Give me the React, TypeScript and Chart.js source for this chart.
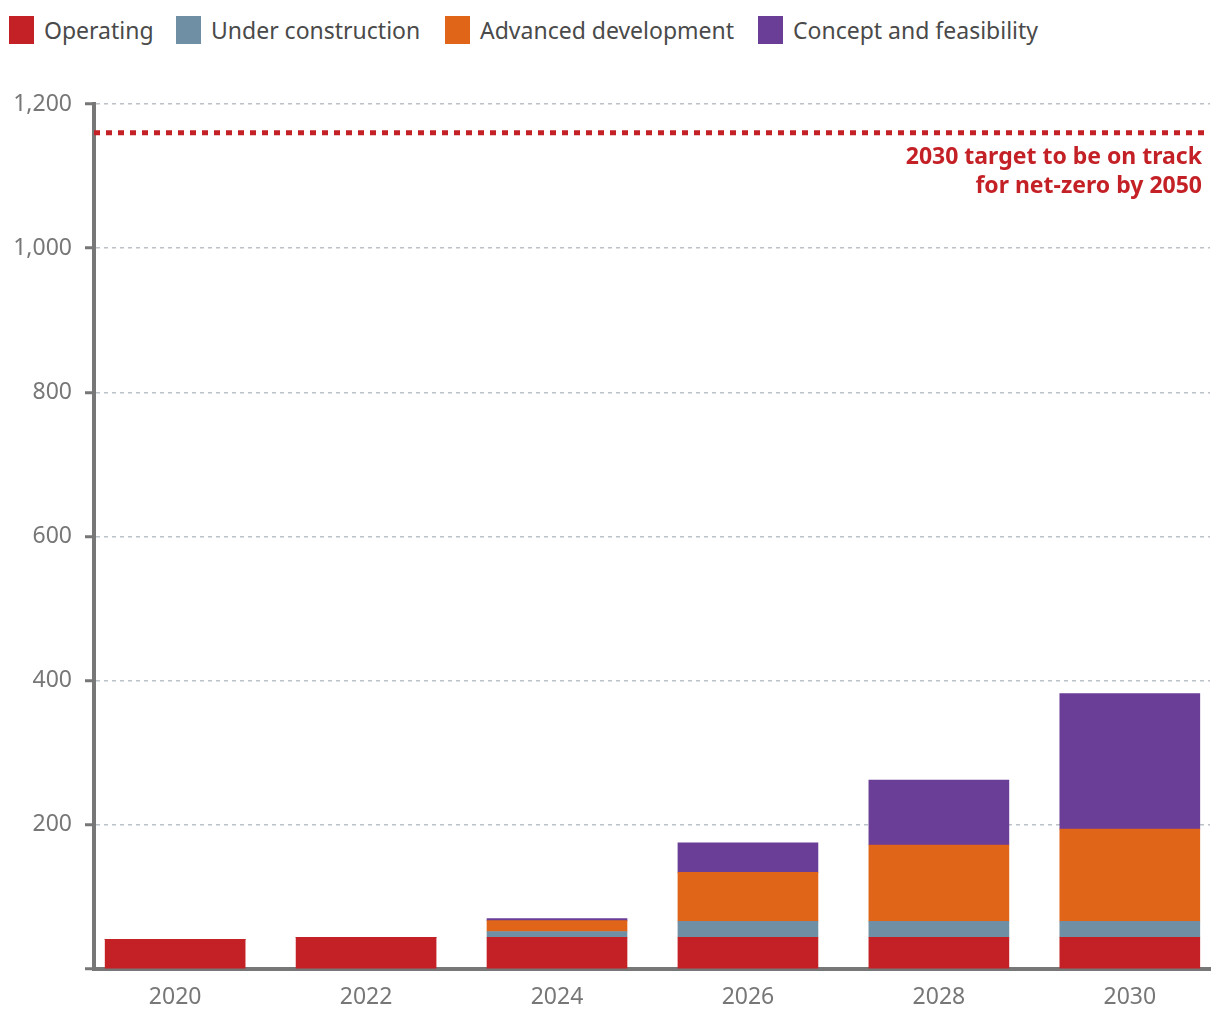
import React, { useEffect, useRef } from "react";
import { Chart, registerables } from "chart.js";

Chart.register(...registerables);

const YEARS = [2020, 2022, 2024, 2026, 2028, 2030];
const OPERATING = [41, 44, 44, 44, 44, 44];
const UNDER_CONSTRUCTION = [0, 0, 8, 22, 22, 22];
const ADVANCED = [0, 0, 15, 68, 106, 128];
const CONCEPT = [0, 0, 3, 41, 90, 188];
const SERIES_NAMES = ["Operating", "Under construction", "Advanced development", "Concept and feasibility"];
const SERIES_COLORS = ["#c42127", "#6f8fa4", "#e06519", "#6a3d96"];
const LEGEND_LEFTS = [9, 176, 445, 758];
const TARGET = 1160;
const TARGET_LABEL = ["2030 target to be on track", "for net-zero by 2050"];
const Y_MAX = 1200;
const Y_STEP = 200;

const FONT = "'Noto Sans', 'Open Sans', sans-serif";
const RED = "#c42127";

const targetPlugin = {
  id: "targetLine",
  afterDatasetsDraw(chart: any) {
    const { ctx, chartArea, scales } = chart;
    const y = scales.y.getPixelForValue(TARGET);
    ctx.save();
    ctx.strokeStyle = RED;
    ctx.lineWidth = 5;
    ctx.setLineDash([6, 6]);
    ctx.beginPath();
    ctx.moveTo(chartArea.left, y);
    ctx.lineTo(chartArea.right, y);
    ctx.stroke();
    ctx.setLineDash([]);
    ctx.fillStyle = RED;
    ctx.font = `bold 23px ${FONT}`;
    ctx.textAlign = "right";
    ctx.textBaseline = "alphabetic";
    ctx.fillText(TARGET_LABEL[0], chartArea.right - 8, y + 31);
    ctx.fillText(TARGET_LABEL[1], chartArea.right - 8, y + 60);
    ctx.restore();
  },
};

export default function App() {
  const ref = useRef<HTMLCanvasElement | null>(null);

  useEffect(() => {
    if (!ref.current) return;
    const series = [OPERATING, UNDER_CONSTRUCTION, ADVANCED, CONCEPT];
    const chart = new Chart(ref.current, {
      type: "bar",
      data: {
        datasets: series.map((vals, i) => ({
          label: SERIES_NAMES[i],
          data: YEARS.map((yr, j) => ({ x: yr, y: vals[j] })),
          backgroundColor: SERIES_COLORS[i],
          borderWidth: 0,
          barThickness: 140,
        })),
      },
      options: {
        responsive: false,
        animation: false,
        layout: { padding: { top: 104, right: 10, bottom: 0, left: 0 } },
        plugins: {
          legend: { display: false },
          tooltip: { enabled: false },
        },
        scales: {
          x: {
            type: "linear",
            stacked: true,
            offset: false,
            min: 2019.15,
            max: 2030.84,
            afterBuildTicks: (scale: any) => {
              scale.ticks = YEARS.map((v) => ({ value: v }));
            },
            afterFit: (scale: any) => {
              scale.height = 51;
            },
            ticks: {
              color: "#777",
              font: { family: FONT, size: 23 },
              padding: 15,
              maxRotation: 0,
              autoSkip: false,
              callback: (v: any) => String(v),
            },
            grid: { display: false, drawTicks: false },
            border: { color: "#777", width: 4 },
          },
          y: {
            stacked: true,
            min: 0,
            max: Y_MAX,
            afterFit: (scale: any) => {
              scale.width = 94;
            },
            ticks: {
              stepSize: Y_STEP,
              color: "#777",
              font: { family: FONT, size: 23 },
              padding: 13,
              callback: (v: any) => (v === 0 ? "" : Number(v).toLocaleString("en-US")),
            },
            grid: {
              color: "#bcc2c7",
              lineWidth: 1.5,
              drawTicks: true,
              tickLength: 9,
              tickColor: "#777",
              tickWidth: 3,
              tickBorderDash: [],
            },
            border: { color: "#777", width: 4, dash: [4, 4] },
          },
        },
      },
      plugins: [targetPlugin],
    });
    return () => chart.destroy();
  }, []);

  return (
    <div style={{ position: "absolute", left: 0, top: 0, width: 1220, height: 1020, background: "#fff" }}>
      {SERIES_NAMES.map((name, i) => (
        <div
          key={name}
          style={{
            position: "absolute",
            left: LEGEND_LEFTS[i],
            top: 16,
            display: "flex",
            alignItems: "center",
            fontFamily: FONT,
            fontSize: 23,
            color: "#4a4a4a",
            whiteSpace: "nowrap",
          }}
        >
          <div style={{ width: 25, height: 28, background: SERIES_COLORS[i], marginRight: 10 }} />
          <span style={{ lineHeight: "28px" }}>{name}</span>
        </div>
      ))}
      <canvas ref={ref} width={1220} height={1020} style={{ position: "absolute", left: 0, top: 0 }} />
    </div>
  );
}
